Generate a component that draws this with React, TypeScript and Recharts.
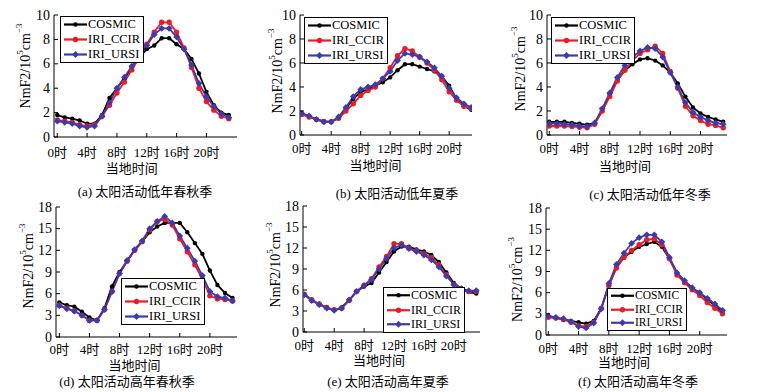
import React from 'react';
import { LineChart, Line, XAxis, YAxis, Legend, Label } from 'recharts';

const hours = [0, 1, 2, 3, 4, 5, 6, 7, 8, 9, 10, 11, 12, 13, 14, 15, 16, 17, 18, 19, 20, 21, 22, 23];
const xTicks = [0, 4, 8, 12, 16, 20];
const xTickLabels = ['0时', '4时', '8时', '12时', '16时', '20时'];
const lowTicks = [0, 2, 4, 6, 8, 10];
const highTicks = [0, 3, 6, 9, 12, 15, 18];
const seriesNames = ['COSMIC', 'IRI_CCIR', 'IRI_URSI'];

// (a) 低年春秋季
const cosmicA = [1.8, 1.6, 1.5, 1.35, 1.1, 1.1, 1.8, 3.2, 4.0, 4.8, 5.7, 6.5, 7.2, 7.5, 8.1, 8.1, 7.6, 7.2, 6.4, 5.2, 3.7, 2.6, 2.0, 1.8];
const ccirA = [1.4, 1.3, 1.2, 1.0, 0.9, 1.0, 1.7, 2.6, 3.6, 4.5, 5.5, 6.5, 7.6, 8.6, 9.4, 9.4, 8.6, 7.3, 5.7, 4.0, 2.9, 2.2, 1.7, 1.5];
const ursiA = [1.3, 1.2, 1.1, 0.9, 0.8, 0.9, 1.7, 2.8, 4.0, 4.9, 5.8, 6.6, 7.5, 8.4, 8.9, 8.9, 8.2, 7.2, 5.9, 4.4, 3.3, 2.5, 1.9, 1.6];
// (b) 低年夏季
const cosmicB = [1.8, 1.5, 1.3, 1.15, 1.1, 1.4, 2.2, 3.0, 3.6, 3.8, 4.1, 4.4, 4.8, 5.4, 5.9, 5.9, 5.7, 5.5, 5.3, 4.9, 4.1, 3.0, 2.4, 2.1];
const ccirB = [1.7, 1.5, 1.3, 1.1, 1.1, 1.4, 2.0, 2.6, 3.3, 3.7, 4.0, 4.7, 5.6, 6.6, 7.2, 7.0, 6.5, 6.0, 5.4, 4.6, 3.6, 2.9, 2.4, 2.2];
const ursiB = [1.8, 1.6, 1.3, 1.1, 1.1, 1.5, 2.3, 3.2, 3.8, 4.0, 4.2, 4.7, 5.3, 6.2, 6.8, 6.7, 6.5, 6.1, 5.6, 4.9, 3.9, 3.1, 2.6, 2.3];
// (c) 低年冬季
const cosmicC = [1.1, 1.1, 1.1, 1.0, 0.95, 0.85, 1.0, 2.0, 3.4, 4.6, 5.4, 5.9, 6.3, 6.4, 6.2, 5.8, 5.2, 4.3, 3.2, 2.3, 1.8, 1.5, 1.3, 1.1];
const ccirC = [0.75, 0.75, 0.75, 0.7, 0.65, 0.6, 0.9, 2.0, 3.2, 4.5, 5.4, 6.2, 6.8, 7.1, 7.4, 6.8, 5.3, 3.9, 2.4, 1.6, 1.2, 0.9, 0.8, 0.6];
const ursiC = [0.95, 0.95, 0.9, 0.85, 0.75, 0.7, 1.0, 2.2, 3.5, 4.8, 5.8, 6.5, 7.0, 7.3, 7.2, 6.5, 5.2, 4.0, 2.7, 1.9, 1.5, 1.2, 1.0, 0.9];
// (d) 高年春秋季
const cosmicD = [4.8, 4.4, 4.2, 3.5, 2.7, 2.3, 4.0, 7.0, 9.0, 10.5, 12.0, 13.2, 14.5, 15.3, 15.8, 15.8, 15.8, 14.5, 13.0, 11.5, 9.2, 7.2, 6.1, 5.4];
const ccirD = [4.4, 4.0, 3.6, 3.0, 2.3, 2.3, 3.8, 6.3, 8.8, 10.5, 12.0, 13.2, 14.8, 16.0, 16.3, 15.5, 13.6, 11.8, 10.0, 8.0, 5.7, 5.3, 5.2, 5.0];
const ursiD = [4.3, 3.9, 3.6, 3.0, 2.3, 2.3, 3.8, 6.3, 8.8, 10.6, 12.1, 13.3, 15.0, 16.0, 16.7, 15.8, 14.0, 12.3, 10.5, 8.5, 6.3, 5.6, 5.4, 5.0];
// (e) 高年夏季
const cosmicE = [5.4, 4.5, 4.0, 3.5, 3.1, 3.5, 4.5, 5.8, 6.5, 7.0, 8.5, 10.0, 11.5, 12.2, 12.2, 11.8, 11.5, 11.0, 10.0, 8.5, 7.0, 6.2, 5.7, 5.5];
const ccirE = [5.4, 4.6, 4.0, 3.5, 3.2, 3.4, 4.5, 5.8, 6.7, 7.6, 9.3, 10.8, 12.6, 12.6, 12.0, 11.6, 11.2, 10.6, 9.6, 8.2, 6.8, 6.2, 5.8, 5.8];
const ursiE = [5.3, 4.5, 3.9, 3.4, 3.1, 3.4, 4.6, 5.8, 6.6, 7.5, 9.0, 10.5, 12.0, 12.4, 11.9, 11.5, 11.0, 10.3, 9.3, 8.0, 6.8, 6.2, 5.9, 5.9];
// (f) 高年冬季
const cosmicF = [2.6, 2.4, 2.2, 2.0, 1.8, 1.6, 2.0, 3.8, 7.0, 9.6, 11.0, 11.8, 12.5, 12.9, 13.2, 12.5, 10.8, 8.8, 7.6, 6.6, 6.0, 5.0, 4.2, 3.2];
const ccirF = [2.5, 2.4, 2.2, 1.8, 1.3, 1.2, 1.8, 3.8, 7.0, 9.5, 11.0, 12.0, 12.8, 13.5, 13.6, 12.8, 10.8, 8.5, 7.4, 6.4, 5.6, 4.6, 3.8, 3.0];
const ursiF = [2.7, 2.5, 2.3, 1.9, 1.2, 1.0, 1.7, 3.7, 7.3, 10.0, 11.6, 13.0, 13.8, 14.2, 14.2, 13.2, 11.0, 8.8, 7.7, 6.7, 6.0, 5.2, 4.4, 3.5];

const FONT = '"Liberation Serif", "Noto Sans CJK SC", serif';
const colors = ['#000000', '#ec1c24', '#3b3baf'];
const Y_AX = 50;
const X_AX = 45;
const MT = 10;
const MR = 5;

const panels = [
  { caption: '(a) 太阳活动低年春秋季', box: [54, 15, 237, 137], xDom: [-0.44, 24.1], yTicks: lowTicks, yMax: 10,
    vals: [cosmicA, ccirA, ursiA], leg: { x: 6, y: 1, rowH: 15, fs: 12.5 }, yLab: { dx: -29, dy: -10 }, xLab: 31, tick: 15, cap: [145, 190] },
  { caption: '(b) 太阳活动低年夏季', box: [300, 15, 472, 135], xDom: [-0.23, 23.1], yTicks: lowTicks, yMax: 10,
    vals: [cosmicB, ccirB, ursiB], leg: { x: 4, y: 2, rowH: 15, fs: 12.5 }, yLab: { dx: -23, dy: -4 }, xLab: 30, tick: 13, cap: [397, 192] },
  { caption: '(c) 太阳活动低年冬季', box: [547, 15, 727, 135], xDom: [-0.3, 23.5], yTicks: lowTicks, yMax: 10,
    vals: [cosmicC, ccirC, ursiC], leg: { x: 4, y: 2, rowH: 15, fs: 12.5 }, yLab: { dx: -27, dy: -6 }, xLab: 31, tick: 13, cap: [650, 193] },
  { caption: '(d) 太阳活动高年春秋季', box: [56, 207, 237, 337], xDom: [-0.44, 23.6], yTicks: highTicks, yMax: 18,
    vals: [cosmicD, ccirD, ursiD], leg: { x: 65, y: 71, rowH: 15, fs: 12.5 }, yLab: { dx: -28, dy: -6 }, xLab: 28, tick: 12, cap: [127, 380] },
  { caption: '(e) 太阳活动高年夏季', box: [303, 206, 480, 332], xDom: [-0.17, 23.5], yTicks: highTicks, yMax: 18,
    vals: [cosmicE, ccirE, ursiE], leg: { x: 80, y: 81, rowH: 14.5, fs: 12 }, yLab: { dx: -28, dy: -4 }, xLab: 28, tick: 13, cap: [388, 380] },
  { caption: '(f) 太阳活动高年冬季', box: [546, 208, 727, 335], xDom: [-0.3, 23.6], yTicks: highTicks, yMax: 18,
    vals: [cosmicF, ccirF, ursiF], leg: { x: 61, y: 80, rowH: 13.5, fs: 11.5 }, yLab: { dx: -29, dy: 8 }, xLab: 27, tick: 13, cap: [638, 380] },
];

function Marker({ i, cx, cy }: { i: number; cx: number; cy: number }) {
  if (i === 0) return <circle cx={cx} cy={cy} r={2.2} fill={colors[0]} />;
  if (i === 1) return <circle cx={cx} cy={cy} r={2.7} fill={colors[1]} />;
  const s = 3.4;
  return <path d={`M${cx},${cy - s}L${cx + s},${cy}L${cx},${cy + s}L${cx - s},${cy}Z`} fill={colors[2]} />;
}

const XTick = (off: number) => (props: any) => {
  const { x, y, payload } = props;
  const idx = xTicks.indexOf(payload.value);
  return (
    <g>
      <line x1={x} x2={x} y1={y} y2={y - 4} stroke="#000" />
      <text x={x} y={y + off} textAnchor="middle" dominantBaseline="central" fontSize={13} fontFamily={FONT} fill="#000">
        {xTickLabels[idx]}
      </text>
    </g>
  );
};

const YTick = (props: any) => {
  const { x, y, payload } = props;
  return (
    <g>
      <line x1={x} x2={x + 4} y1={y} y2={y} stroke="#000" />
      <text x={x - 4} y={y} textAnchor="end" dominantBaseline="central" fontSize={14} fontFamily={FONT} fill="#000">
        {payload.value}
      </text>
    </g>
  );
};

function Panel({ p }: { p: (typeof panels)[number] }) {
  const [x0, y0, x1, y1] = p.box;
  const pw = x1 - x0;
  const ph = y1 - y0;
  const data = hours.map((h, i) => ({
    h,
    COSMIC: p.vals[0][i],
    IRI_CCIR: p.vals[1][i],
    IRI_URSI: p.vals[2][i],
  }));
  const midX = ((10 - p.xDom[0]) / (p.xDom[1] - p.xDom[0])) * pw;

  const renderLegend = () => (
    <div style={{ border: '1px solid #000', background: '#fff', padding: '0 3px 0 2px', fontFamily: FONT, fontSize: p.leg.fs }}>
      {seriesNames.map((n, i) => (
        <div key={n} style={{ display: 'flex', alignItems: 'center', height: p.leg.rowH }}>
          <svg width={25} height={p.leg.rowH} style={{ display: 'block' }}>
            <line x1={1} x2={24} y1={p.leg.rowH / 2} y2={p.leg.rowH / 2} stroke={colors[i]} strokeWidth={2.2} />
            <Marker i={i} cx={12.5} cy={p.leg.rowH / 2} />
          </svg>
          <span style={{ lineHeight: `${p.leg.rowH}px`, color: '#000' }}>{n}</span>
        </div>
      ))}
    </div>
  );

  return (
    <div style={{ position: 'absolute', left: x0 - Y_AX, top: y0 - MT }}>
      <LineChart width={pw + Y_AX + MR} height={ph + MT + X_AX} data={data} margin={{ top: MT, right: MR, left: 0, bottom: 0 }}>
        <XAxis dataKey="h" type="number" domain={p.xDom} allowDataOverflow ticks={xTicks} interval={0}
          tickSize={0} tickMargin={0} height={X_AX} tick={XTick(p.tick)} axisLine={{ stroke: '#000' }}>
          <Label content={(lp: any) => {
            const vb = lp.viewBox;
            return (
              <text x={vb.x + midX} y={vb.y + p.xLab} textAnchor="middle" dominantBaseline="central" fontSize={13} fontFamily={FONT} fill="#000">
                当地时间
              </text>
            );
          }} />
        </XAxis>
        <XAxis xAxisId="top" orientation="top" dataKey="h" type="number" domain={p.xDom} allowDataOverflow height={0}
          tick={false} tickLine={false} axisLine={{ stroke: '#000' }} />
        <YAxis type="number" domain={[0, p.yMax]} ticks={p.yTicks} interval={0} allowDataOverflow width={Y_AX}
          tickSize={0} tickMargin={0} tick={YTick} axisLine={{ stroke: '#000' }}>
          <Label content={(lp: any) => {
            const vb = lp.viewBox;
            const cx = vb.x + vb.width + p.yLab.dx;
            const cy = vb.y + vb.height / 2 + p.yLab.dy;
            return (
              <text x={cx} y={cy} transform={`rotate(-90, ${cx}, ${cy})`} textAnchor="middle" dominantBaseline="central"
                fontSize={14} fontFamily={FONT} fill="#000">
                NmF2/10<tspan dy={-5} fontSize={9}>5</tspan><tspan dy={5}>cm</tspan><tspan dy={-6} fontSize={9}>−3</tspan>
              </text>
            );
          }} />
        </YAxis>
        <YAxis yAxisId="right" orientation="right" type="number" domain={[0, p.yMax]} width={0}
          tick={false} tickLine={false} axisLine={{ stroke: '#000' }} />
        <Legend layout="vertical" align="center" verticalAlign="middle" content={renderLegend}
          wrapperStyle={{ left: Y_AX + p.leg.x, top: MT + p.leg.y, width: 'auto', height: 'auto' }} />
        {seriesNames.map((n, i) => (
          <Line key={n} dataKey={n} type="linear" stroke={colors[i]} strokeWidth={1.8} isAnimationActive={false}
            dot={(dp: any) => <Marker key={`${n}-${dp.index}`} i={i} cx={dp.cx} cy={dp.cy} />} />
        ))}
      </LineChart>
    </div>
  );
}

export default function App() {
  return (
    <div style={{ position: 'absolute', left: 0, top: 0, width: 759, height: 392, background: '#fff', fontFamily: FONT }}>
      {panels.map((p) => (
        <React.Fragment key={p.caption}>
          <Panel p={p} />
          <div style={{ position: 'absolute', left: p.cap[0], top: p.cap[1], transform: 'translate(-50%, -50%)',
            whiteSpace: 'nowrap', fontSize: 13, color: '#000' }}>
            {p.caption}
          </div>
        </React.Fragment>
      ))}
    </div>
  );
}
